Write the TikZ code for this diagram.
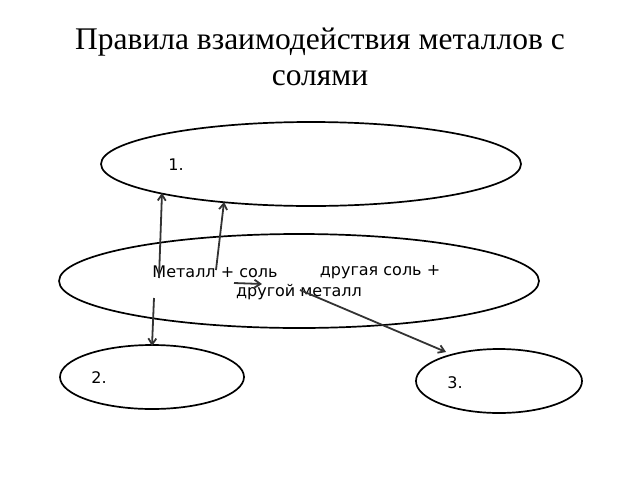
\documentclass[tikz,border=0pt]{standalone}
\usepackage{fontspec}
\setmainfont{Liberation Serif}
\newfontfamily\bodyfont{DejaVu Sans}
\usetikzlibrary{arrows.meta}

\begin{document}
\begin{tikzpicture}[x=1pt,y=-1pt]
  \tikzstyle{every node}+=[inner sep=0pt]
  \tikzstyle{oval}=[draw=black, line width=1.7pt]
  \tikzstyle{txt}=[font=\bodyfont\fontsize{16}{18}\selectfont]
  \tikzstyle{link}=[draw=black!80, line width=1.8pt, -{Straight Barb[length=6pt,width=8pt]}]
  \useasboundingbox (0,0) rectangle (640,480);
  % title
  \node (title) at (320,57) [align=center, font=\fontsize{31.5}{36}\selectfont] {Правила взаимодействия металлов с\\солями};
  % ovals
  \draw [oval] (311,164) ellipse (210 and 42);
  \draw [oval] (299,281) ellipse (240 and 47);
  \draw [oval] (152,377) ellipse (92 and 32);
  \draw [oval] (499,381) ellipse (83 and 32);
  % labels
  \node (one) at (176,165) [txt] {1.};
  \node (two) at (99,378) [txt] {2.};
  \node (three) at (455,383) [txt] {3.};
  \node (left) at (215,272) [txt] {Металл + соль};
  \node (right) at (380,272) [txt] {другая соль +};
  \node (second) at (299,292) [txt] {другой металл};
  % arrow ends
  \coordinate (a1) at (159,278); \coordinate (b1) at (162,193);
  \coordinate (a2) at (216,270); \coordinate (b2) at (224,202);
  \coordinate (a3) at (154,298); \coordinate (b3) at (152,346);
  \coordinate (a4) at (300,290); \coordinate (b4) at (446,352);
  \coordinate (a5) at (234,283); \coordinate (b5) at (262,284);
  \draw [link] (a1) -- (b1);
  \draw [link] (a2) -- (b2);
  \draw [link] (a3) -- (b3);
  \draw [link] (a4) -- (b4);
  \draw [link] (a5) -- (b5);
\end{tikzpicture}
\end{document}
